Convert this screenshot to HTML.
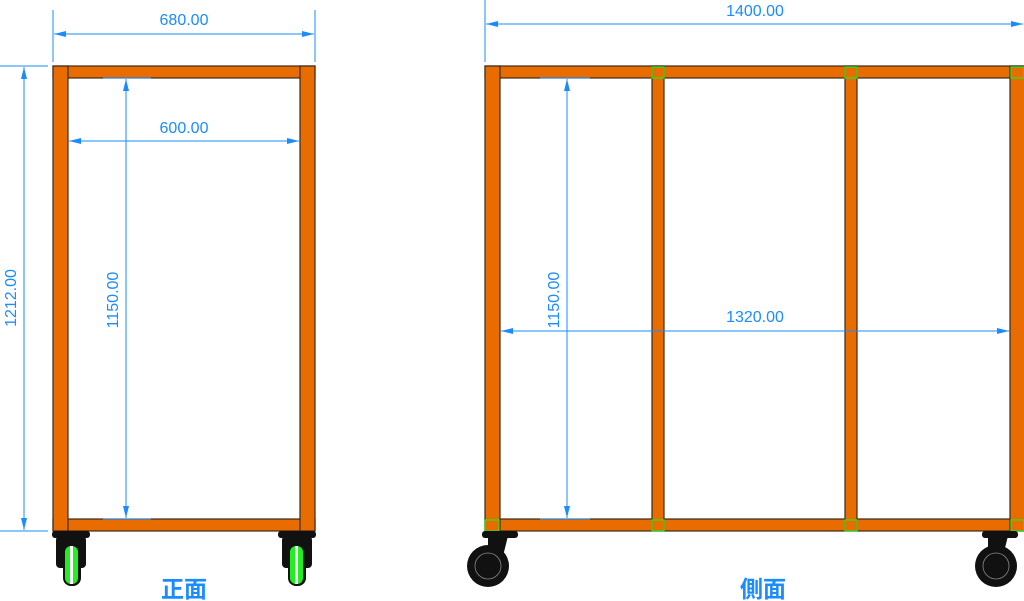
<!DOCTYPE html>
<html><head><meta charset="utf-8"><style>
body{margin:0;background:#fff;width:1024px;height:601px;overflow:hidden}
svg{display:block}
.t{font-family:"Liberation Sans","Noto Sans CJK JP",sans-serif;fill:#1a8cff;font-size:16px}
.l{font-family:"Liberation Sans","Noto Sans CJK JP",sans-serif;fill:#1a8cff;font-size:23px;font-weight:bold}
</style></head><body>
<svg width="1024" height="601" viewBox="0 0 1024 601">
<defs>
<marker id="a" viewBox="0 0 12 6" refX="12" refY="3" markerWidth="12" markerHeight="6" orient="auto-start-reverse" markerUnits="userSpaceOnUse"><path d="M0,0L12,3L0,6z" fill="#1a8cff"/></marker>
</defs>
<g fill="#e96c00" stroke="#3a2a1a" stroke-width="1.2">
<!-- front -->
<rect x="53" y="66" width="262" height="12"/>
<rect x="53" y="519" width="262" height="12"/>
<rect x="53" y="66" width="15" height="465"/>
<rect x="300" y="66" width="15" height="465"/>
<!-- side -->
<rect x="485" y="66" width="545" height="12"/>
<rect x="485" y="519" width="545" height="12"/>
<rect x="485" y="66" width="15" height="465"/>
<rect x="652" y="66" width="12" height="465"/>
<rect x="845" y="66" width="12" height="465"/>
<rect x="1010" y="66" width="15" height="465"/>
</g>
<g fill="none" stroke="#33dd22" stroke-width="1.3">
<rect x="652" y="67" width="12" height="11"/><rect x="845" y="67" width="12" height="11"/><rect x="1011" y="67" width="13" height="11"/>
<rect x="485" y="520" width="14" height="11"/><rect x="652" y="520" width="12" height="11"/><rect x="845" y="520" width="12" height="11"/><rect x="1011" y="520" width="13" height="11"/>
</g>
<!-- front casters -->
<g>
<rect x="52" y="531" width="38" height="7" rx="3" fill="#111"/>
<rect x="56" y="536" width="30" height="32" rx="4" fill="#111"/>
<rect x="63" y="544" width="18" height="42" rx="8" fill="#111"/>
<rect x="65" y="546" width="13" height="38" rx="6" fill="#22ee22"/>
<rect x="70" y="546" width="3" height="38" fill="#fff"/>
<rect x="278" y="531" width="38" height="7" rx="3" fill="#111"/>
<rect x="282" y="536" width="30" height="32" rx="4" fill="#111"/>
<rect x="288" y="544" width="18" height="42" rx="8" fill="#111"/>
<rect x="290" y="546" width="13" height="38" rx="6" fill="#22ee22"/>
<rect x="295" y="546" width="3" height="38" fill="#fff"/>
</g>
<!-- side casters -->
<g>
<rect x="482" y="531" width="36" height="7" rx="3" fill="#111"/>
<path d="M488,536h20l-6,24h-14z" fill="#111"/>
<circle cx="488" cy="566" r="21" fill="#111"/>
<circle cx="488" cy="566" r="13" fill="none" stroke="#888" stroke-width="0.8"/>
<rect x="982" y="531" width="36" height="7" rx="3" fill="#111"/>
<path d="M988,536h20l-6,24h-14z" fill="#111"/>
<circle cx="996" cy="566" r="21" fill="#111"/>
<circle cx="996" cy="566" r="13" fill="none" stroke="#888" stroke-width="0.8"/>
</g>
<!-- dims -->
<g stroke="#1a8cff" stroke-width="1" fill="none">
<line x1="53" y1="10" x2="53" y2="62"/><line x1="315" y1="10" x2="315" y2="62"/>
<line x1="54" y1="34" x2="314" y2="34" marker-start="url(#a)" marker-end="url(#a)"/>
<line x1="69" y1="141" x2="299" y2="141" marker-start="url(#a)" marker-end="url(#a)"/>
<line x1="0" y1="66" x2="48" y2="66"/><line x1="0" y1="531" x2="48" y2="531"/>
<line x1="24" y1="67" x2="24" y2="530" marker-start="url(#a)" marker-end="url(#a)"/>
<line x1="103" y1="78" x2="151" y2="78"/><line x1="103" y1="519" x2="151" y2="519"/>
<line x1="126" y1="79" x2="126" y2="518" marker-start="url(#a)" marker-end="url(#a)"/>
<line x1="485" y1="0" x2="485" y2="62"/>
<line x1="486" y1="24" x2="1023" y2="24" marker-start="url(#a)" marker-end="url(#a)"/>
<line x1="540" y1="78" x2="590" y2="78"/><line x1="540" y1="519" x2="590" y2="519"/>
<line x1="567" y1="79" x2="567" y2="518" marker-start="url(#a)" marker-end="url(#a)"/>
<line x1="501" y1="331" x2="1009" y2="331" marker-start="url(#a)" marker-end="url(#a)"/>
</g>
<text class="t" x="184" y="25" text-anchor="middle">680.00</text>
<text class="t" x="184" y="133" text-anchor="middle">600.00</text>
<text class="t" x="755" y="16" text-anchor="middle">1400.00</text>
<text class="t" x="755" y="322" text-anchor="middle">1320.00</text>
<text class="t" transform="translate(16,298) rotate(-90)" text-anchor="middle">1212.00</text>
<text class="t" transform="translate(118,300) rotate(-90)" text-anchor="middle">1150.00</text>
<text class="t" transform="translate(559,300) rotate(-90)" text-anchor="middle">1150.00</text>
<text class="l" x="184" y="597" text-anchor="middle">正面</text>
<text class="l" x="763" y="597" text-anchor="middle">側面</text>
</svg>
</body></html>
